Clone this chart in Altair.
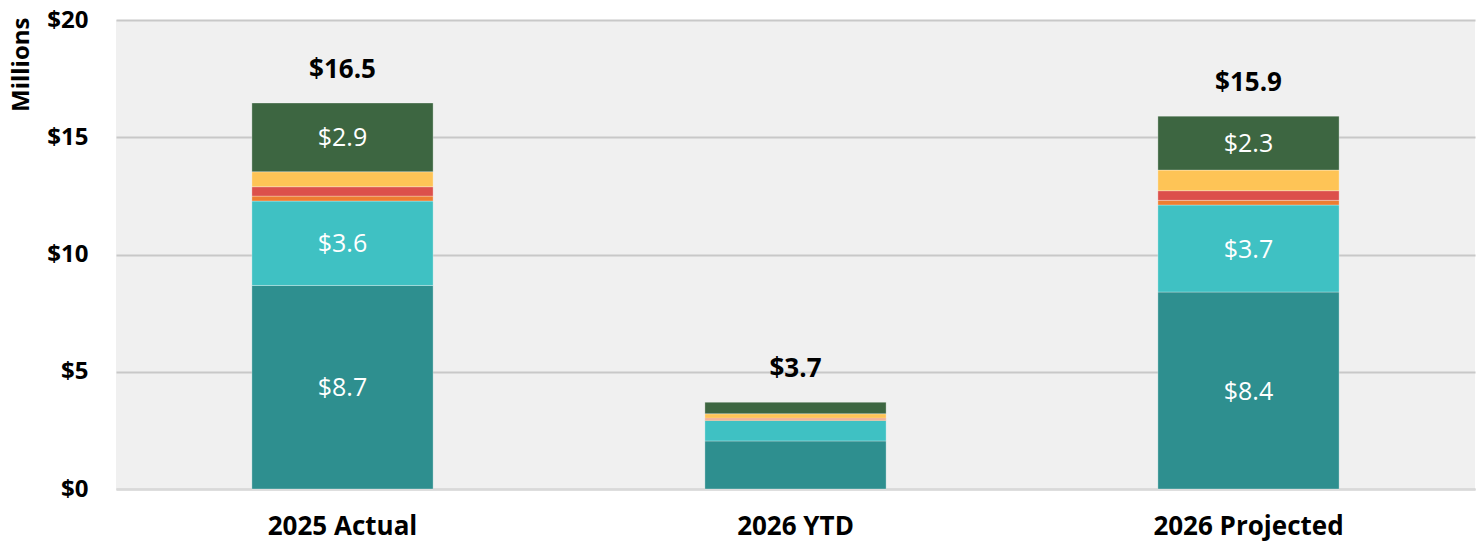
import altair as alt
import pandas as pd

categories = ["2025 Actual", "2026 YTD", "2026 Projected"]
series = ["Series 1", "Series 2", "Series 3", "Series 4", "Series 5", "Series 6"]
colors = ["#2e8f8f", "#3fc1c3", "#ed7d31", "#dc504b", "#fec456", "#3d6641"]
values = {
    "2025 Actual":    [8.68, 3.60, 0.21, 0.40, 0.64, 2.93],
    "2026 YTD":       [2.05, 0.87, 0.05, 0.05, 0.19, 0.49],
    "2026 Projected": [8.40, 3.71, 0.20, 0.41, 0.88, 2.30],
}

rows = []
for c in categories:
    for i, s in enumerate(series):
        rows.append({"category": c, "series": s, "order": i, "value": values[c][i]})
df = pd.DataFrame(rows)

FONT = "Open Sans"

x_enc = alt.X("category:N", sort=categories, title=None,
              scale=alt.Scale(paddingInner=0.6, paddingOuter=0.3),
              axis=alt.Axis(labelAngle=0, labelFont=FONT, labelFontSize=26,
                            labelFontWeight="bold", labelColor="#000000",
                            labelPadding=24, labelLimit=600, ticks=False, domain=True,
                            domainColor="#d9d9d9", domainWidth=2))

bars = alt.Chart(df).mark_bar(stroke="#ffffff", strokeWidth=0.6, strokeOpacity=0.5).encode(
    x=x_enc,
    y=alt.Y("value:Q", stack="zero", title="Millions",
            scale=alt.Scale(domain=[0, 20], nice=False),
            axis=alt.Axis(values=[0, 5, 10, 15, 20], labelExpr="'$' + datum.value",
                          labelFont=FONT, labelFontSize=24, labelFontWeight="bold",
                          labelColor="#000000", labelPadding=28, ticks=False,
                          domain=False, grid=True, gridColor="#c8c8c8", gridWidth=2,
                          titleFont=FONT, titleFontSize=24, titleFontWeight="bold",
                          titleColor="#000000", titleAngle=270, titleAlign="right",
                          titleBaseline="middle", titleX=-95, titleY=-3)),
    color=alt.Color("series:N", scale=alt.Scale(domain=series, range=colors), legend=None),
    order=alt.Order("order:Q", sort="ascending"),
)

seg_labels = alt.Chart(df).transform_stack(
    stack="value", groupby=["category"], as_=["y0", "y1"],
    sort=[alt.SortField("order", order="ascending")]
).transform_calculate(
    mid="(datum.y0 + datum.y1) / 2",
    label="'$' + format(datum.value, '.1f')"
).transform_filter("datum.value >= 2.2").mark_text(
    font=FONT, fontSize=25, color="#ffffff", baseline="middle", dy=1
).encode(
    x=alt.X("category:N", sort=categories),
    y=alt.Y("mid:Q"),
    text="label:N",
)

totals = alt.Chart(df).transform_aggregate(
    total="sum(value)", groupby=["category"]
).transform_calculate(
    label="'$' + format(datum.total, '.1f')"
).mark_text(
    font=FONT, fontSize=26, fontWeight="bold", color="#000000", baseline="middle", dy=-33
).encode(
    x=alt.X("category:N", sort=categories),
    y=alt.Y("total:Q"),
    text="label:N",
)

chart = alt.layer(bars, seg_labels, totals).properties(
    width=1359, height=469,
    autosize=alt.AutoSizeParams(type="none"),
    padding={"left": 116, "top": 20, "right": 6, "bottom": 52},
    background="#ffffff",
).configure_view(fill="#f0f0f0", strokeWidth=0)

chart.save("out.html", embed_options={"renderer": "svg", "actions": False})
